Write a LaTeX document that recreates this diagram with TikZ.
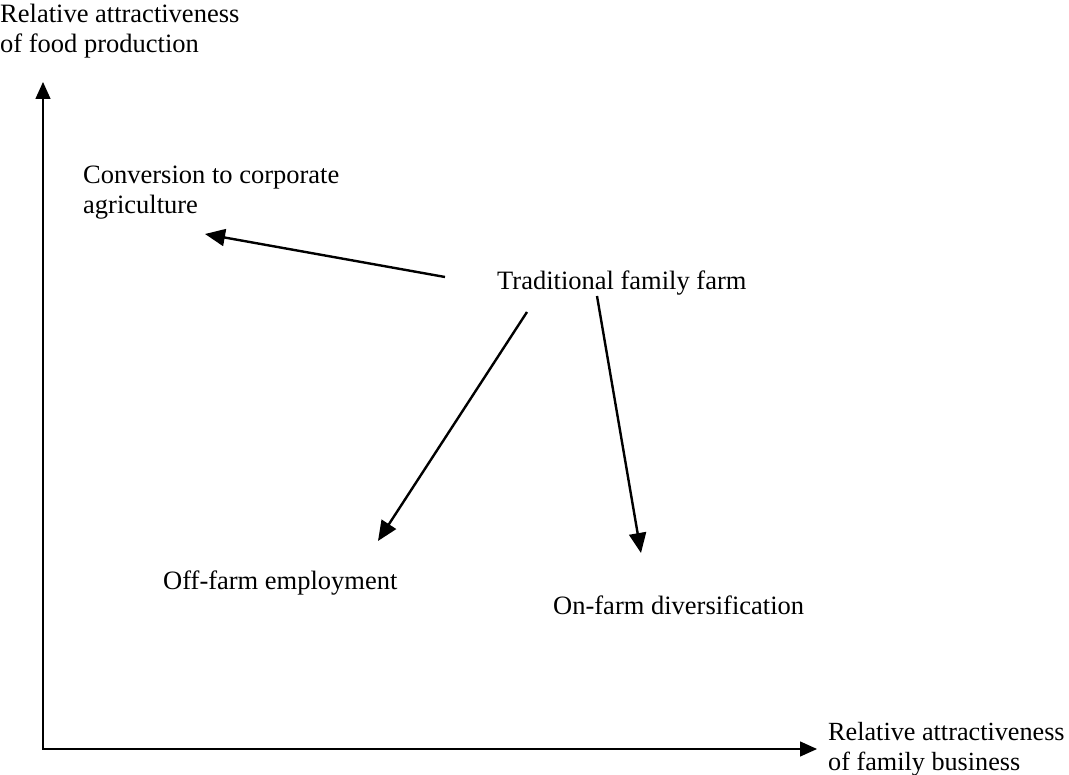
\documentclass[tikz,border=0pt]{standalone}
\usepackage{fontspec}
\setmainfont{Liberation Serif}
\usetikzlibrary{arrows.meta}
\tikzset{
  lbl/.style={inner sep=0pt, anchor=west, align=left, font=\fontsize{26.5}{30}\selectfont},
  axis/.style={line width=1.4pt, -{Triangle[length=17pt,width=15pt]}},
  move/.style={line width=2.4pt, -{Triangle[length=20pt,width=17pt]}}
}
\begin{document}
\begin{tikzpicture}[x=1pt,y=-1pt]
\useasboundingbox (0,0) rectangle (1069,775);
% axes
\coordinate (origin) at (43,749);
\coordinate (ytip) at (43,82);
\coordinate (xtip) at (817,749);
\draw[axis] (43,749.7) -- (ytip);
\draw[axis] (42.3,749) -- (xtip);
% labels
\node[lbl] (ylab) at (0,31) {Relative attractiveness\\of food production};
\node[lbl,font=\fontsize{26.2}{30}\selectfont] (xlab) at (828,749) {Relative attractiveness\\of family business};
\node[lbl] (conv) at (83,193) {Conversion to corporate\\agriculture};
\node[lbl] (tff) at (497,283) {Traditional family farm};
\node[lbl] (off) at (163,583) {Off-farm employment};
\node[lbl] (on) at (553,605) {On-farm diversification};
% arrow end points
\coordinate (s1) at (445,277);
\coordinate (e1) at (205,234);
\coordinate (s2) at (527,312);
\coordinate (e2) at (378,541);
\coordinate (s3) at (597,296);
\coordinate (e3) at (641,553);
\draw[move] (s1) -- (e1);
\draw[move] (s2) -- (e2);
\draw[move] (s3) -- (e3);
\end{tikzpicture}
\end{document}
